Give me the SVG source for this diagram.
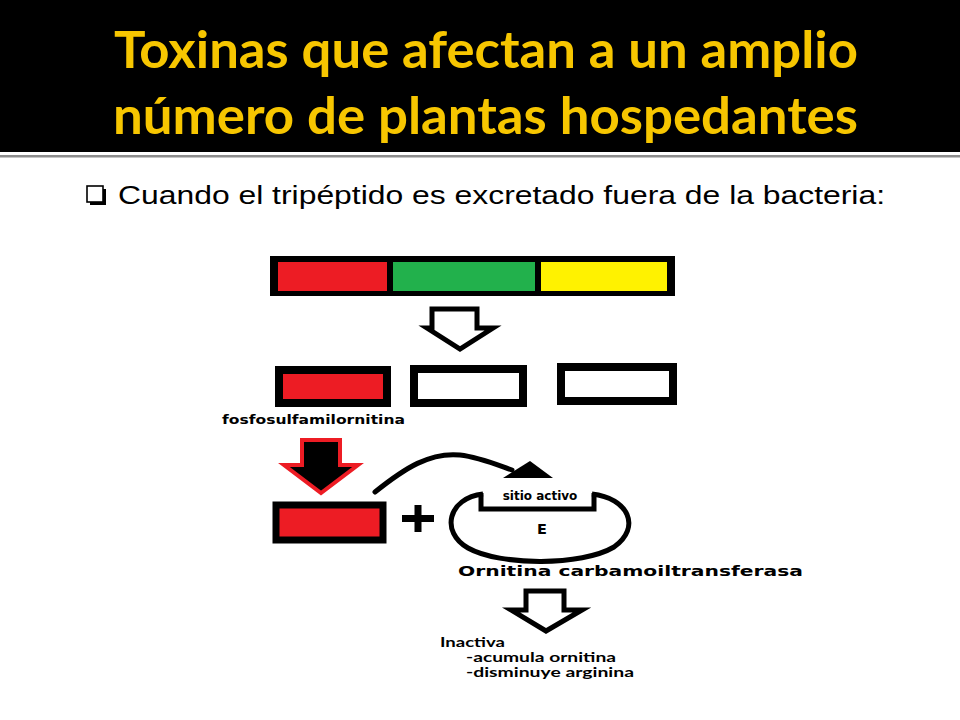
<svg xmlns="http://www.w3.org/2000/svg" width="960" height="720" viewBox="0 0 960 720">
<defs>
<style>
.title{font-family:Lato,"Open Sans",sans-serif;font-weight:bold;font-size:51px;fill:#F7C600}
.sub{font-family:"Liberation Sans",Arial,sans-serif;font-size:26px;fill:#000}
.lbl{font-family:"DejaVu Sans",Verdana,sans-serif;font-weight:bold;fill:#000}
.cal{font-family:Lato,"Open Sans",sans-serif;font-weight:bold;font-size:13px;fill:#000}
.hollow{fill:#fff;stroke:#000;stroke-width:5;stroke-linejoin:miter}
.box{stroke:#000;stroke-width:8}
</style>
</defs>
<rect x="0" y="0" width="960" height="720" fill="#fff"/>
<g id="header">
<rect x="0" y="0" width="960" height="152" fill="#000"/>
<rect x="0" y="155" width="960" height="2.5" fill="#8c8c8c"/>
<text class="title" x="114" y="68" textLength="744" lengthAdjust="spacingAndGlyphs">Toxinas que afectan a un amplio</text>
<text class="title" x="113" y="134" textLength="745" lengthAdjust="spacingAndGlyphs">número de plantas hospedantes</text>
</g>
<g id="subtitle">
<rect x="90" y="189" width="16" height="16" fill="#000"/>
<rect x="87" y="186" width="16" height="16" fill="#fff" stroke="#000" stroke-width="1.6"/>
<text class="sub" x="118" y="204" textLength="767" lengthAdjust="spacingAndGlyphs">Cuando el tripéptido es excretado fuera de la bacteria:</text>
</g>
<g id="tripeptide">
<rect x="273" y="259" width="399" height="34" fill="#000" stroke="#000" stroke-width="6"/>
<rect x="278" y="262" width="109" height="29" fill="#ED1C24"/>
<rect x="393" y="262" width="142" height="29" fill="#22B14C"/>
<rect x="541" y="262" width="126" height="29" fill="#FFF200"/>
</g>
<g id="arrow1">
<polygon class="hollow" points="432,309 477,309 477,328 493,328 460,349 427,328 432,328"/>
</g>
<g id="fragment1">
<rect class="box" x="279" y="370" width="108" height="33" fill="#ED1C24"/>
</g>
<g id="fragment2">
<rect class="box" x="414" y="369" width="109" height="34" fill="#fff"/>
</g>
<g id="fragment3">
<rect class="box" x="561" y="367" width="112" height="34" fill="#fff"/>
</g>
<text class="lbl" x="222" y="424" font-size="12.5" textLength="183" lengthAdjust="spacingAndGlyphs">fosfosulfamilornitina</text>
<g id="arrow2">
<polygon points="302,440 340,440 340,465 358,465 321,493 284,465 302,465" fill="#000" stroke="#ED1C24" stroke-width="4" stroke-linejoin="miter"/>
</g>
<g id="toxin">
<rect x="276" y="505" width="107" height="35" fill="#ED1C24" stroke="#000" stroke-width="7"/>
</g>
<g id="plus">
<rect x="402" y="515" width="32" height="7" fill="#000"/>
<rect x="414.5" y="505" width="7" height="27" fill="#000"/>
</g>
<g id="enzyme">
<path d="M483,494 C448,498 440,532 468,548 C500,566 582,566 614,547 C642,527 628,498 592,494" fill="none" stroke="#000" stroke-width="5"/>
<path d="M481,493 L481,509 L594,509 L594,493" fill="none" stroke="#000" stroke-width="5"/>
<text class="lbl" x="540" y="500" font-size="12" text-anchor="middle">sitio activo</text>
<text class="lbl" x="542" y="534" font-size="14.5" text-anchor="middle">E</text>
</g>
<g id="connectors">
<path d="M375,492 C405,468 430,452 460,455 C478,457 495,464 512,470" fill="none" stroke="#000" stroke-width="5" stroke-linecap="round"/>
<polygon points="503,478 530,461 553,478" fill="#000"/>
</g>
<text class="lbl" x="458" y="576" font-size="13.5" textLength="345" lengthAdjust="spacingAndGlyphs">Ornitina carbamoiltransferasa</text>
<g id="arrow3">
<polygon class="hollow" points="526,591 564,591 564,610 582,610 546,631 511,610 526,610"/>
</g>
<g id="result">
<text class="cal" x="440" y="647" textLength="65" lengthAdjust="spacingAndGlyphs">Inactiva</text>
<text class="cal" x="466" y="662" textLength="150" lengthAdjust="spacingAndGlyphs">-acumula ornitina</text>
<text class="cal" x="466" y="677" textLength="168" lengthAdjust="spacingAndGlyphs">-disminuye arginina</text>
</g>
</svg>
